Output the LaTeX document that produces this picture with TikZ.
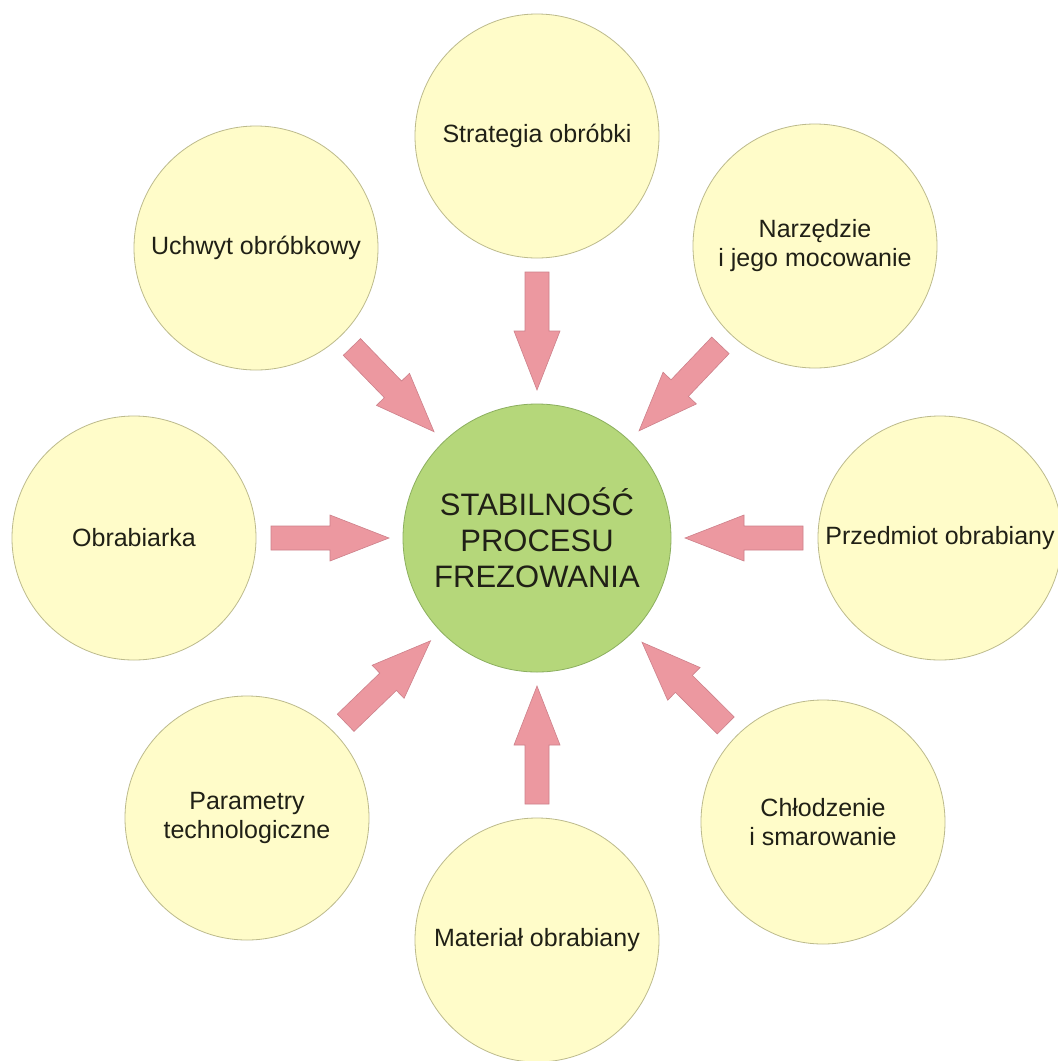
\documentclass[tikz,border=0pt]{standalone}
\usepackage{fontspec}
\setmainfont{Liberation Sans}
\usetikzlibrary{positioning,calc}
\definecolor{factoryellow}{RGB}{255,252,201}
\definecolor{factorline}{RGB}{188,186,140}
\definecolor{stablegreen}{RGB}{181,215,122}
\definecolor{stableline}{RGB}{140,175,95}
\definecolor{arrowpink}{RGB}{236,152,160}
\definecolor{arrowline}{RGB}{205,128,138}
\definecolor{textdark}{RGB}{32,32,22}

\tikzset{
  factor/.style={circle,draw=factorline,fill=factoryellow,line width=0.8pt,
    minimum size=244pt,inner sep=0pt,align=center,text=textdark,
    font=\fontsize{25}{29}\selectfont},
  stable/.style={circle,draw=stableline,fill=stablegreen,line width=0.8pt,
    minimum size=268pt,inner sep=0pt,align=center,text=textdark,
    font=\fontsize{31}{36}\selectfont},
  fatarrow/.pic={
    \filldraw[fill=arrowpink,draw=arrowline,line width=0.6pt]
      (148,0) -- (207,-23) -- (207,-12) -- (266,-12) -- (266,12)
      -- (207,12) -- (207,23) -- cycle;}
}

\begin{document}
\begin{tikzpicture}[x=1pt,y=-1pt]
    \fill[white] (0,0) rectangle (1058,1061);
    \useasboundingbox (0,0) rectangle (1058,1061);

    % Central circle
    \node[stable] (centre) at (537,538) {STABILNOŚĆ\\PROCESU\\FREZOWANIA};

    % Influencing factors
    \node[factor] (strategia) at (537,136) {Strategia obróbki};
    \node[factor] (narzedzie) at (815,246) {Narzędzie\\i jego mocowanie};
    \node[factor] (przedmiot) at (940,538) {Przedmiot obrabiany};
    \node[factor] (chlodzenie) at (823,822) {Chłodzenie\\i smarowanie};
    \node[factor] (material) at (537,940) {Materiał obrabiany};
    \node[factor] (parametry) at (247,818) {Parametry\\technologiczne};
    \node[factor] (obrabiarka) at (134,538) {Obrabiarka};
    \node[factor] (uchwyt) at (256,248) {Uchwyt obróbkowy};

    % Block arrows towards the centre
    \foreach \factor in {strategia,narzedzie,przedmiot,chlodzenie,material,parametry,obrabiarka,uchwyt}
        \path (centre.center) -- (\factor.center) pic[pos=0,sloped,allow upside down] {fatarrow};
\end{tikzpicture}
\end{document}
